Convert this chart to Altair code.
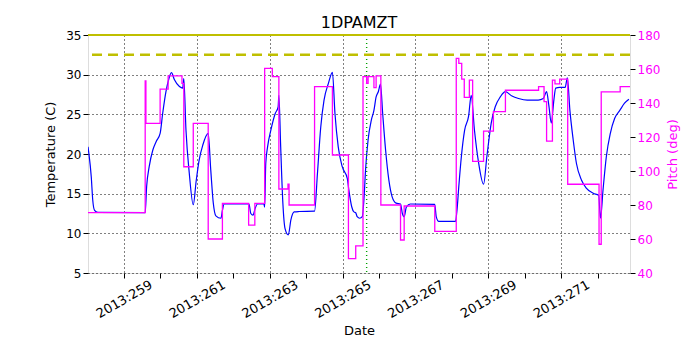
import altair as alt
import pandas as pd

# Temperature (1DPAMZT) samples: day of year 2013 -> deg C
temp_day = [258.01, 258.03, 258.10, 258.14, 258.19, 258.28, 259.58, 259.62, 259.69, 259.79,
            259.88, 259.99, 260.06, 260.15, 260.22, 260.30, 260.38, 260.52, 260.61, 260.64,
            260.70, 260.79, 260.90, 260.98, 261.06, 261.16, 261.31, 261.38, 261.45, 261.52,
            261.66, 261.70, 261.75, 262.43, 262.48, 262.54, 262.60, 262.66, 262.84, 262.86,
            262.89, 262.94, 263.03, 263.15, 263.23, 263.25, 263.30, 263.36, 263.42, 263.51,
            263.58, 263.67, 263.80, 264.23, 264.31, 264.40, 264.49, 264.61, 264.72, 264.79,
            264.88, 264.99, 265.13, 265.17, 265.25, 265.31, 265.36, 265.40, 265.47, 265.54,
            265.59, 265.63, 265.70, 265.79, 265.86, 265.92, 265.98, 266.04, 266.10, 266.18,
            266.27, 266.36, 266.47, 266.59, 266.64, 266.69, 266.75, 266.86, 267.53, 267.57,
            267.64, 268.10, 268.14, 268.19, 268.26, 268.35, 268.46, 268.53, 268.62, 268.73,
            268.87, 268.96, 269.08, 269.19, 269.33, 269.47, 269.65, 269.83, 270.07, 270.37,
            270.51, 270.60, 270.66, 270.73, 270.80, 270.85, 270.96, 271.11, 271.17, 271.24,
            271.33, 271.42, 271.56, 271.69, 271.88, 272.03, 272.08, 272.15, 272.24, 272.35,
            272.47, 272.61, 272.74, 272.86]
temp_val = [20.9, 20.2, 17.1, 14.2, 12.9, 12.65, 12.6, 15.9, 18.4, 20.5,
            21.55, 22.6, 25.1, 27.85, 29.3, 30.25, 29.4, 28.5, 28.3, 29.5,
            23.0, 17.6, 13.6, 16.6, 19.2, 21.1, 22.6, 18.0, 13.8, 12.2,
            11.9, 12.9, 13.7, 13.7, 12.5, 12.3, 13.15, 13.7, 13.7, 13.3,
            18.8, 20.9, 23.0, 25.1, 25.95, 27.4, 20.9, 13.8, 10.6, 9.8,
            11.7, 12.7, 12.75, 12.8, 17.6, 23.4, 26.8, 28.9, 30.3, 25.1,
            20.9, 18.4, 16.9, 15.5, 13.35, 12.7, 12.6, 12.1, 11.9, 12.1,
            14.6, 18.0, 21.8, 24.3, 25.5, 27.2, 27.85, 28.8, 25.1, 20.5,
            16.7, 14.6, 13.8, 13.7, 12.5, 12.1, 13.3, 13.7, 13.65, 12.1,
            11.5, 11.5, 12.9, 15.9, 19.65, 23.0, 24.8, 27.4, 23.0, 19.0,
            16.2, 19.65, 23.9, 25.95, 27.2, 27.85, 27.3, 27.0, 26.8, 26.8,
            27.0, 27.85, 26.2, 23.9, 26.8, 28.3, 28.4, 28.4, 29.6, 25.5,
            21.8, 18.8, 16.7, 15.7, 15.05, 14.8, 11.9, 15.5, 19.65, 22.6,
            24.5, 25.5, 26.4, 26.9]

# Pitch (step changes): day of year 2013 -> deg
pitch_day = [258.01, 259.58, 259.60, 259.99, 260.21, 260.59, 260.64, 260.90, 261.31, 261.70,
             262.42, 262.59, 262.86, 263.07, 263.25, 263.50, 263.53, 264.23, 264.72, 265.16,
             265.36, 265.56, 265.66, 265.70, 265.86, 265.92, 266.05, 266.59, 266.69, 267.53,
             268.12, 268.19, 268.27, 268.34, 268.48, 268.57, 268.87, 269.14, 269.47, 270.38,
             270.53, 270.60, 270.76, 270.83, 270.96, 271.18, 272.04, 272.10, 272.62, 272.89]
pitch_val = [75.5, 153.0, 128.0, 148.2, 156.0, 151.6, 102.5, 128.0, 60.0, 81.0,
             68.2, 81.0, 160.4, 155.5, 89.4, 92.2, 80.0, 149.6, 109.4, 48.4,
             55.9, 155.5, 151.6, 155.5, 149.0, 156.0, 80.0, 59.4, 79.4, 64.5,
             166.3, 163.3, 154.0, 143.3, 153.5, 105.7, 123.5, 134.9, 147.5, 149.6,
             140.8, 117.6, 153.5, 151.2, 154.0, 92.2, 56.9, 146.5, 149.6, 149.6]

x_domain = [258.01, 272.89]
tick_days = list(range(259, 273))
temp_ticks = [5, 10, 15, 20, 25, 30, 35]
pitch_ticks = [40, 60, 80, 100, 120, 140, 160, 180]
limit_solid = [35.0]
limit_dashed = [32.5]
marker_day = [265.66]

temp_df = pd.DataFrame({"day": temp_day, "temp": temp_val})
pitch_df = pd.DataFrame({"day": pitch_day, "pitch": pitch_val})

font = "DejaVu Sans"
x_scale = alt.Scale(domain=x_domain, nice=False, zero=False)
t_scale = alt.Scale(domain=[5, 35], nice=False, zero=False)

x_enc = alt.X(
    "day:Q",
    scale=x_scale,
    axis=alt.Axis(
        values=tick_days,
        labelExpr="datum.value % 2 == 1 ? '2013:' + datum.value : ''",
        labelAngle=330,
        labelAlign="center",
        labelBaseline="middle",
        labelFontSize=13,
        labelFont=font,
        labelColor="black",
        title="Date",
        titleFont=font,
        titleFontSize=13,
        titleFontWeight="normal",
        titleColor="black",
        tickColor="black",
        tickSize=5,
        domain=False,
        grid=True,
        gridColor="black",
        gridDash=[1, 3],
        gridOpacity={"condition": {"test": "datum.value % 2 == 1", "value": 1}, "value": 0},
        labelPadding=21,
        titlePadding=4,
        labelFlush=False,
        labelOverlap=False,
    ),
)

y_temp = alt.Y(
    "temp:Q",
    scale=t_scale,
    axis=alt.Axis(
        values=temp_ticks,
        title="Temperature (C)",
        titleFont=font,
        titleFontSize=13,
        titleFontWeight="normal",
        titleColor="black",
        labelFont=font,
        labelFontSize=12,
        labelColor="black",
        tickColor="black",
        tickSize=5,
        domain=False,
        grid=True,
        gridColor="black",
        gridDash=[1, 3],
        labelPadding=2,
        titlePadding=8,
        labelFlush=False,
        labelOverlap=False,
    ),
)

temp_line = alt.Chart(temp_df).mark_line(
    color="#0000ff", strokeWidth=1.2, interpolate="monotone", clip=True
).encode(x=x_enc, y=y_temp)

top_rule = alt.Chart(pd.DataFrame({"temp": limit_solid})).mark_rule(
    color="#bfbf00", strokeWidth=2
).encode(y=y_temp)
dash_rule = alt.Chart(pd.DataFrame({"temp": limit_dashed})).mark_rule(
    color="#bfbf00", strokeWidth=2.5, strokeDash=[10, 6]
).encode(y=y_temp)

vline = alt.Chart(pd.DataFrame({"day": marker_day})).mark_rule(
    color="#00a000", strokeWidth=1.4, strokeDash=[1, 3]
).encode(x=x_enc)

pitch_line = alt.Chart(pitch_df).mark_line(
    color="#ff00ff", strokeWidth=1.3, interpolate="step-after", clip=True
).encode(
    x=x_enc,
    y=alt.Y(
        "pitch:Q",
        scale=alt.Scale(domain=[40, 180], nice=False, zero=False),
        axis=alt.Axis(
            orient="right",
            values=pitch_ticks,
            title="Pitch (deg)",
            titleAngle=270,
            titleFont=font,
            titleFontSize=13,
            titleFontWeight="normal",
            titleColor="#ff00ff",
            labelFont=font,
            labelFontSize=12,
            labelColor="#ff00ff",
            tickColor="black",
            tickSize=5,
            domain=False,
            grid=False,
            labelPadding=2,
            titlePadding=20,
            labelFlush=False,
            labelOverlap=False,
        ),
    ),
)

left = alt.layer(temp_line, vline, dash_rule, top_rule)

chart = (
    alt.layer(left, pitch_line)
    .resolve_scale(y="independent")
    .properties(
        width=542,
        height=238,
        title=alt.TitleParams("1DPAMZT", font=font, fontSize=16, fontWeight="normal",
                              color="black", offset=7, dy=9),
        autosize=alt.AutoSizeParams(type="none"),
        padding={"left": 80, "top": 27, "right": 62, "bottom": 69},
    )
    .configure_view(stroke="black", strokeWidth=1)
    .configure(background="white")
)

chart.save("out.html", embed_options={"renderer": "svg", "actions": False})
